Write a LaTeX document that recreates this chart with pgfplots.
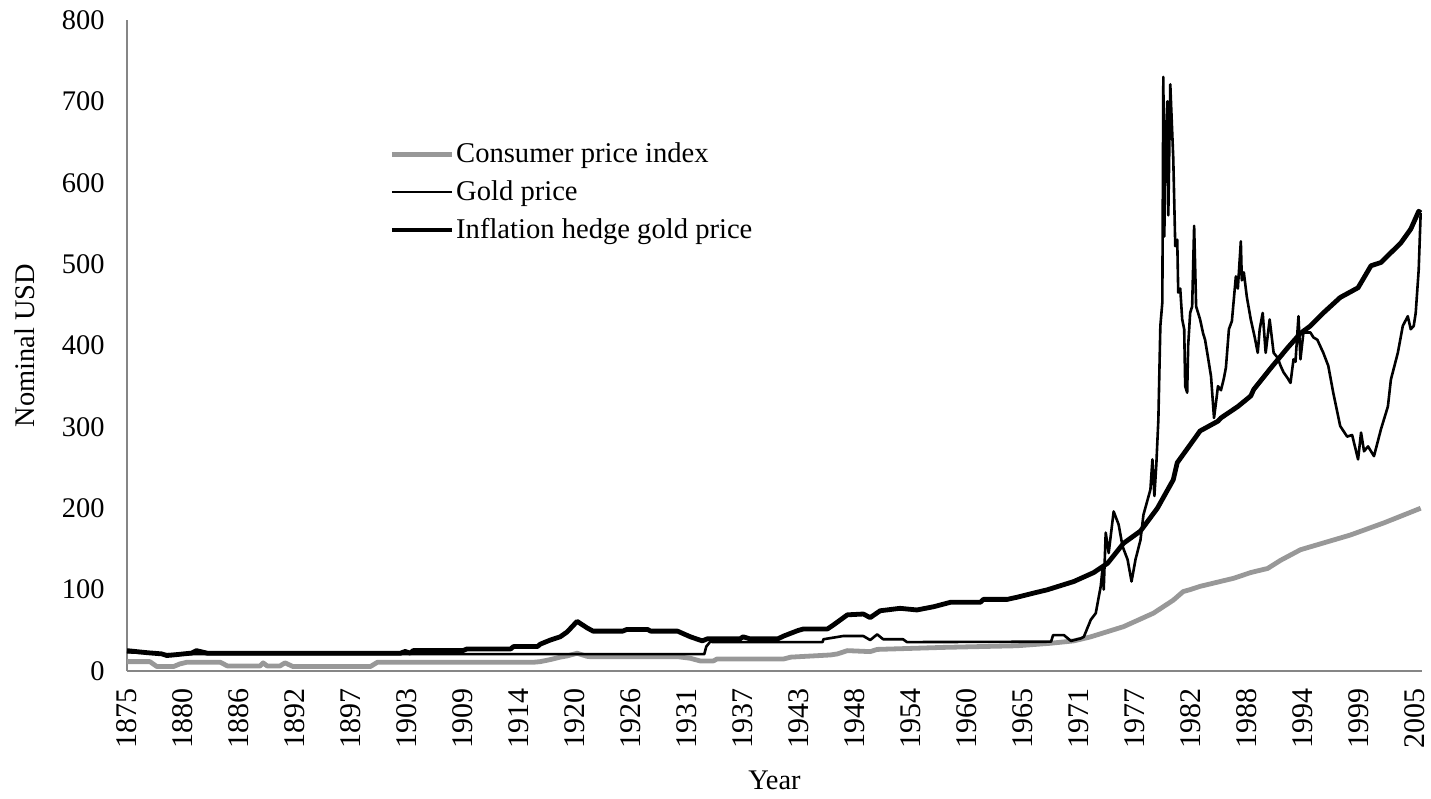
\documentclass[border=0pt]{standalone}
\usepackage{fontspec}
\setmainfont{Liberation Serif}
\usepackage{pgfplots}
\pgfplotsset{compat=1.18}
\definecolor{cpigray}{RGB}{152,152,152}
\definecolor{axisgray}{RGB}{134,134,134}
\begin{document}
\begin{tikzpicture}
\begin{axis}[
  name=ax,
  scale only axis, width=647.5pt, height=325.5pt,
  xmin=1875, xmax=2005.333, ymin=0, ymax=800,
  xtick={1875,1880.634,1886.268,1891.902,1897.536,1903.170,1908.804,1914.438,1920.072,1925.706,1931.340,1936.974,1942.608,1948.242,1953.876,1959.510,1965.144,1970.778,1976.412,1982.046,1987.680,1993.314,1998.948,2004.582},
  xticklabels={1875,1880,1886,1892,1897,1903,1909,1914,1920,1926,1931,1937,1943,1948,1954,1960,1965,1971,1977,1982,1988,1994,1999,2005},
  ytick={0,100,200,300,400,500,600,700,800},
  axis x line*=bottom, axis y line*=left,
  axis line style={draw=axisgray, line width=0.75pt},
  major tick length=0pt,
  /pgf/number format/assume math mode=true,
  tick label style={font=\fontsize{14.2}{17}\selectfont},
  xticklabel style={rotate=90, anchor=east, inner sep=0pt, font=\fontsize{15}{18}\selectfont},
  xticklabel shift=8.5pt,
  yticklabel style={anchor=east, inner sep=0pt, xshift=-11pt},
  label style={font=\fontsize{14.2}{17}\selectfont},
  xlabel={Year},
  ylabel={Nominal USD},
  xlabel style={at={(axis description cs:0.5,-0.1674)}, anchor=center},
  ylabel style={at={(axis description cs:-0.0788,0.5)}, anchor=center, rotate=0},
  legend style={draw=none, fill=none, at={(axis description cs:0.2023,0.815)}, anchor=north west,
    font=\fontsize{14.3}{17}\selectfont, inner sep=0pt, row sep=5.5pt,
    nodes={inner sep=1pt}},
  legend cell align=left,
  legend image code/.code={\draw[#1] (0pt,0pt) -- (30pt,0pt);},
]
% Consumer price index
\addplot[cpigray, line width=2.4pt, line join=round] coordinates {
(1875.0,11.5)(1877.3,11.5)(1878.0,5.5)(1879.7,5.5)(1880.3,8.6)(1881.0,10.7)(1884.4,10.7)
(1885.1,6.2)(1888.4,6.2)(1888.7,10)(1889.1,6.2)(1890.4,6.2)(1890.9,10)(1891.7,5.5)
(1899.5,5.5)(1900.2,10.7)(1915.9,10.7)(1916.6,11.5)(1917.6,14)(1918.6,17)(1919.3,18.5)
(1920.3,21.8)(1921.3,18)(1921.6,17.6)(1930.4,17.6)(1931.7,15.6)(1932.7,12.3)(1934.0,12.3)
(1934.4,14.8)(1941.1,14.8)(1941.8,17)(1945.8,19.7)(1946.5,21)(1947.5,25)(1949.8,23.8)
(1950.5,26.5)(1957.2,29)(1964.6,31)(1967.9,34)(1970.3,37)(1972.0,42)(1975.3,54.5)
(1978.3,71)(1980.3,87)(1981.3,97.6)(1982.0,100)(1983.0,104)(1986.4,114)(1988.1,121)
(1989.8,126)(1991.1,136)(1993.1,149)(1998.1,167)(2001.5,182)(2005.2,200)
};
\addlegendentry{Consumer price index}
% Gold price
\addplot[black, line width=1.3pt, line join=round] coordinates {
(1875.0,23)(1877.0,22)(1878.5,20.67)(1933.1,20.67)(1933.3,30)(1933.7,36)(1934.0,35.5)
(1945.0,35.5)(1945.1,39)(1947.1,43)(1949.1,43)(1949.8,38)(1950.5,45)(1951.1,39)(1953.1,39)
(1953.5,35.5)(1968.0,36)(1968.2,44)(1969.3,44)(1970.0,37)(1971.0,40)(1971.3,42)(1972.0,63)
(1972.5,71)(1972.8,91)(1973.0,104)(1973.2,128)(1973.3,100)(1973.5,170)(1973.8,145)
(1974.3,196)(1974.8,180)(1975.2,153)(1975.7,137)(1976.1,110)(1976.5,137)(1977.0,161)
(1977.3,192)(1978.0,223)(1978.2,260)(1978.4,215)(1978.6,255)(1978.8,309)(1979.0,424)
(1979.2,453)(1979.3,730)(1979.4,534)(1979.5,640)(1979.7,700)(1979.8,560)(1980.0,721)
(1980.1,690)(1980.3,630)(1980.5,522)(1980.7,530)(1980.8,465)(1981.0,470)(1981.2,432)
(1981.4,420)(1981.5,350)(1981.7,342)(1981.8,400)(1982.0,440)(1982.2,448)(1982.4,547)
(1982.6,448)(1982.8,440)(1983.0,432)(1983.3,415)(1983.5,407)(1983.8,385)(1984.1,362)
(1984.4,311)(1984.6,330)(1984.8,350)(1985.1,345)(1985.4,360)(1985.6,373)(1985.9,420)
(1986.2,430)(1986.6,485)(1986.8,470)(1987.1,528)(1987.2,480)(1987.4,490)(1987.7,460)
(1988.1,432)(1988.5,410)(1988.8,391)(1989.0,420)(1989.3,440)(1989.6,391)(1990.0,432)
(1990.4,391)(1990.8,385)(1991.1,375)(1991.4,367)(1991.8,360)(1992.1,354)(1992.4,383)
(1992.6,380)(1992.9,436)(1993.1,383)(1993.4,416)(1994.1,416)(1994.4,410)(1994.8,407)
(1995.4,391)(1995.9,375)(1996.4,342)(1997.1,301)(1997.8,288)(1998.3,290)(1998.9,260)
(1999.2,293)(1999.5,270)(1999.9,276)(2000.5,264)(2001.2,297)(2001.9,325)(2002.2,358)
(2002.9,391)(2003.4,424)(2003.9,436)(2004.2,420)(2004.5,424)(2004.7,440)(2005.0,493)
(2005.2,563)
};
\addlegendentry{Gold price}
% Inflation hedge gold price
\addplot[black, line width=2.4pt, line join=round] coordinates {
(1875.0,25)(1877.0,22.5)(1878.5,21)(1879.0,19)(1879.5,19.5)(1881.5,22)(1882.0,25)
(1883.1,21.8)(1902.5,21.8)(1903.0,24)(1903.5,22)(1903.8,25)(1908.8,25)(1909.2,27)
(1913.6,27)(1913.9,30)(1916.3,30)(1916.6,33)(1917.6,38)(1918.6,42)(1919.3,48)(1920.3,61)
(1921.3,53)(1921.9,49)(1924.9,49)(1925.3,51)(1927.4,51)(1927.7,49)(1930.4,49)(1931.7,42)
(1932.9,37)(1933.4,39.5)(1936.7,39.5)(1937.0,42)(1937.7,39.5)(1940.5,39.5)(1941.1,43)
(1942.5,49.6)(1943.1,51.7)(1945.5,51.7)(1946.1,56.6)(1947.5,69)(1949.1,70)(1949.8,65.6)
(1950.8,74)(1952.8,77)(1954.5,75)(1956.2,79)(1957.9,84.5)(1960.9,84.5)(1961.2,88)
(1963.6,88)(1964.6,90.7)(1966.2,95.6)(1967.6,99.7)(1970.3,110)(1972.3,121)(1973.7,132.5)
(1975.3,157)(1977.0,172)(1978.7,200)(1980.3,235)(1980.7,256)(1982.0,278)(1983.0,295)
(1984.8,307)(1985.1,311)(1986.8,325)(1988.1,338)(1988.4,346)(1990.1,372)(1991.8,397)
(1993.1,415)(1994.1,424)(1995.4,440)(1997.1,459)(1998.9,471)(2000.2,498)(2001.2,502)
(2002.2,514)(2003.2,526)(2004.2,543)(2005.0,565)(2005.2,563)
};
\addlegendentry{Inflation hedge gold price}
\end{axis}
\pgfresetboundingbox
\path[use as bounding box] ([xshift=-63.5pt,yshift=-64pt]ax.south west) rectangle ([xshift=4.5pt,yshift=10pt]ax.north east);
\end{tikzpicture}
\end{document}
